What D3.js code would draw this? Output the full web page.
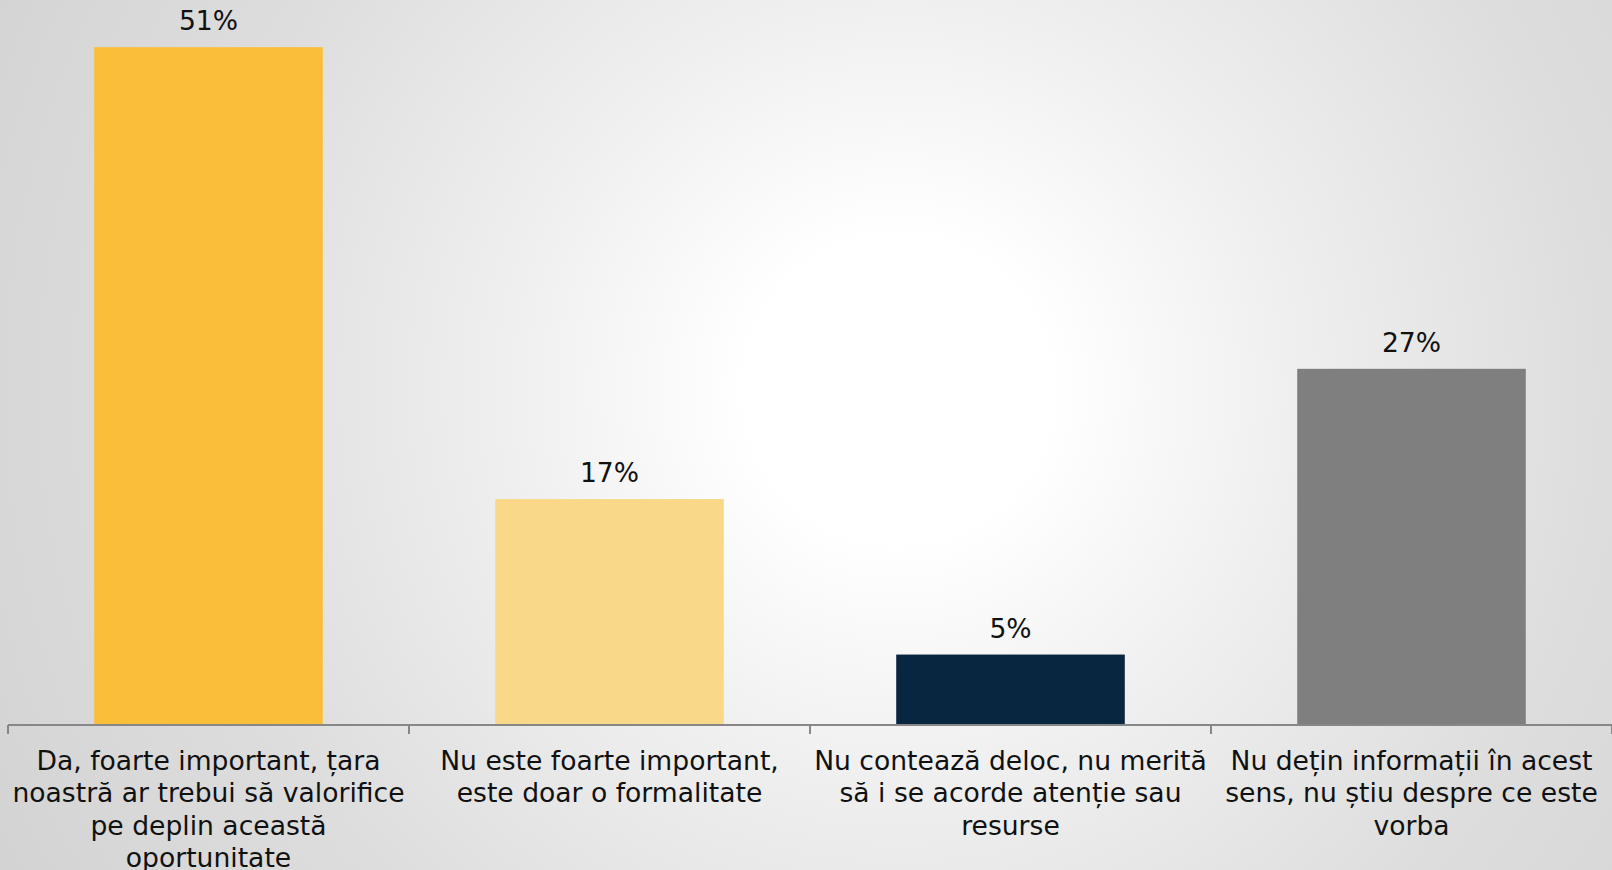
<!DOCTYPE html>
<html>
<head>
<meta charset="utf-8">
<script src="https://cdn.jsdelivr.net/npm/d3@7"></script>
<style>
  html, body { margin: 0; padding: 0; overflow: hidden; background: #e0e0e0; }
  svg { display: block; }
</style>
</head>
<body>
<svg id="chart" width="1612" height="870"></svg>
<script>
// ---- data ----
const categories = [
  "Da, foarte important, țara\nnoastră ar trebui să valorifice\npe deplin această\noportunitate",
  "Nu este foarte important,\neste doar o formalitate",
  "Nu contează deloc, nu merită\nsă i se acorde atenție sau\nresurse",
  "Nu dețin informații în acest\nsens, nu știu despre ce este\nvorba"
];
const values = [51, 17, 5.3, 26.8];
const valueLabels = ["51%", "17%", "5%", "27%"];
const barColors = ["#F9BE3A", "#FAD889", "#08263F", "#7F7F7F"];

// ---- layout ----
const W = 1612, H = 870;
const svg = d3.select("#chart");
const axisY = 725;

// background radial gradient
const defs = svg.append("defs");
const grad = defs.append("radialGradient")
  .attr("id", "bg")
  .attr("gradientUnits", "userSpaceOnUse")
  .attr("cx", 898).attr("cy", 390).attr("r", 1010);
[[0, "#ffffff"], [0.15, "#ffffff"], [0.39, "#efefef"], [0.7, "#dddddd"], [0.9, "#d7d7d7"], [1, "#d3d3d3"]]
  .forEach(([o, c]) => grad.append("stop").attr("offset", o).attr("stop-color", c));
svg.append("rect").attr("width", W).attr("height", H).attr("fill", "url(#bg)");

const x = d3.scaleBand()
  .domain(d3.range(categories.length))
  .range([8, 1612])
  .paddingInner(0.43)
  .paddingOuter(0.215);

const y = d3.scaleLinear().domain([0, 54.55]).range([axisY, 0]);

const font = "'DejaVu Sans', Verdana, sans-serif";

// bars
svg.append("g").selectAll("rect")
  .data(values)
  .join("rect")
  .attr("x", (d, i) => x(i))
  .attr("y", d => y(d))
  .attr("width", x.bandwidth())
  .attr("height", d => y(0) - y(d))
  .attr("fill", (d, i) => barColors[i]);

// value labels
svg.append("g").selectAll("text")
  .data(values)
  .join("text")
  .attr("x", (d, i) => x(i) + x.bandwidth() / 2)
  .attr("y", d => y(d) - 17)
  .attr("text-anchor", "middle")
  .attr("font-family", font)
  .attr("font-size", 26.6)
  .attr("fill", "#111")
  .text((d, i) => valueLabels[i]);

// axis line + boundary ticks
const step = x.step();
const bounds = d3.range(categories.length + 1).map(i => x(0) - step * x.paddingInner() / 2 + i * step);
const axisG = svg.append("g");
axisG.append("line")
  .attr("x1", bounds[0]).attr("x2", W)
  .attr("y1", axisY).attr("y2", axisY)
  .attr("stroke", "#878787").attr("stroke-width", 2);
axisG.selectAll("line.tick")
  .data(bounds)
  .join("line")
  .attr("class", "tick")
  .attr("x1", d => d).attr("x2", d => d)
  .attr("y1", axisY).attr("y2", axisY + 9)
  .attr("stroke", "#878787").attr("stroke-width", 2);

// category labels
const lab = svg.append("g").selectAll("text")
  .data(categories)
  .join("text")
  .attr("x", (d, i) => x(i) + x.bandwidth() / 2)
  .attr("y", 770)
  .attr("text-anchor", "middle")
  .attr("font-family", font)
  .attr("font-size", 26.6)
  .attr("fill", "#111");
lab.each(function(d, i) {
  const t = d3.select(this);
  const cx = x(i) + x.bandwidth() / 2;
  d.split("\n").forEach((line, k) => {
    t.append("tspan").attr("x", cx).attr("dy", k === 0 ? 0 : 32.4).text(line);
  });
});
</script>
</body>
</html>
